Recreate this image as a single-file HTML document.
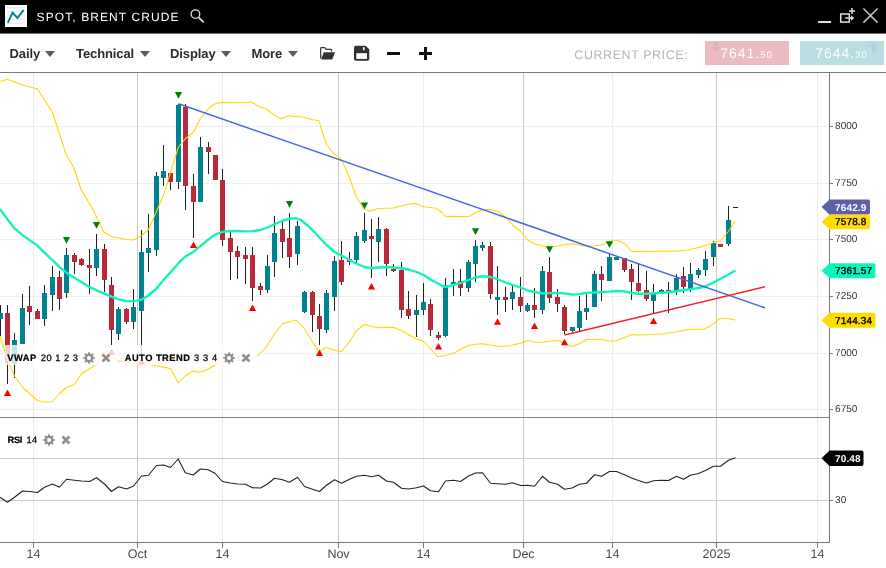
<!DOCTYPE html>
<html lang="en"><head><meta charset="utf-8"><title>SPOT, BRENT CRUDE</title>
<style>
html,body{margin:0;padding:0;background:#fff;}
body{width:886px;height:568px;overflow:hidden;position:relative;font-family:"Liberation Sans",Arial,sans-serif;text-rendering:geometricPrecision;}
.abs{position:absolute;white-space:nowrap;line-height:1;}
#hdr{left:0;top:0;width:886px;height:33px;background:#000;}
#hdr2{left:0;top:33px;width:886px;height:1px;background:#6e6e6e;}
.title{left:36.6px;top:10.7px;color:#fff;font-size:12px;letter-spacing:1.09px;}
.menu{top:47.05px;font-weight:bold;font-size:13px;color:#2b2b30;letter-spacing:-0.1px;}
.caret{top:51.2px;width:0;height:0;border-left:5.2px solid transparent;border-right:5.2px solid transparent;border-top:6px solid #5c5c5c;}
.cp{left:574.3px;top:48.8px;font-size:12.5px;color:#b4b4b4;letter-spacing:0.56px;}
.pbox{top:41px;height:24px;color:#fff;}
.pbox .big{font-size:14px;letter-spacing:1.0px;}
.pbox .sm{font-size:9.5px;letter-spacing:1.0px;}
.leg{font-size:10px;color:#222;background:rgba(255,255,255,0.78);height:19px;}
.leg b{color:#111;}
svg text{font-family:"Liberation Sans",Arial,sans-serif;text-rendering:geometricPrecision;}
</style></head><body>

<svg class="abs" style="left:0;top:0" width="886" height="568" viewBox="0 0 886 568">
<g shape-rendering="crispEdges">
<rect x="0" y="126" width="829" height="1" fill="#eeeeee"/>
<rect x="0" y="183" width="829" height="1" fill="#eeeeee"/>
<rect x="0" y="239" width="829" height="1" fill="#eeeeee"/>
<rect x="0" y="296" width="829" height="1" fill="#eeeeee"/>
<rect x="0" y="353" width="829" height="1" fill="#eeeeee"/>
<rect x="0" y="409" width="829" height="1" fill="#eeeeee"/>
<rect x="33" y="73" width="1" height="469" fill="#ebebeb"/>
<rect x="222" y="73" width="1" height="469" fill="#ebebeb"/>
<rect x="423" y="73" width="1" height="469" fill="#ebebeb"/>
<rect x="612" y="73" width="1" height="469" fill="#ebebeb"/>
<rect x="817" y="73" width="1" height="469" fill="#ebebeb"/>
<rect x="137" y="73" width="1" height="469" fill="#c9c9c9"/>
<rect x="338" y="73" width="1" height="469" fill="#c9c9c9"/>
<rect x="523" y="73" width="1" height="469" fill="#c9c9c9"/>
<rect x="716" y="73" width="1" height="469" fill="#c9c9c9"/>
<rect x="0" y="458" width="829" height="1" fill="#cbcbcb"/>
<rect x="0" y="500" width="829" height="1" fill="#cbcbcb"/>
<rect x="0" y="417" width="829" height="1" fill="#808080"/>
<rect x="0" y="72" width="886" height="1" fill="#7a7a7a"/>
<rect x="829" y="73" width="1" height="470" fill="#777"/>
<rect x="0" y="542" width="830" height="1" fill="#777"/>
<rect x="830" y="126" width="3" height="1" fill="#808080"/>
<rect x="830" y="183" width="3" height="1" fill="#808080"/>
<rect x="830" y="239" width="3" height="1" fill="#808080"/>
<rect x="830" y="296" width="3" height="1" fill="#808080"/>
<rect x="830" y="353" width="3" height="1" fill="#808080"/>
<rect x="830" y="409" width="3" height="1" fill="#808080"/>
<rect x="830" y="500" width="3" height="1" fill="#808080"/>
<rect x="33" y="543" width="1" height="5" fill="#777"/>
<rect x="137" y="543" width="1" height="5" fill="#777"/>
<rect x="222" y="543" width="1" height="5" fill="#777"/>
<rect x="338" y="543" width="1" height="5" fill="#777"/>
<rect x="423" y="543" width="1" height="5" fill="#777"/>
<rect x="523" y="543" width="1" height="5" fill="#777"/>
<rect x="612" y="543" width="1" height="5" fill="#777"/>
<rect x="716" y="543" width="1" height="5" fill="#777"/>
<rect x="817" y="543" width="1" height="5" fill="#777"/>
</g>
<g shape-rendering="crispEdges">
<rect x="0" y="305" width="1" height="31" fill="#222"/>
<rect x="-2" y="313" width="5" height="6" fill="#00838f"/>
<rect x="7" y="305" width="1" height="79" fill="#222"/>
<rect x="5" y="313" width="5" height="50" fill="#b8293a"/>
<rect x="14" y="333" width="1" height="45" fill="#222"/>
<rect x="12" y="340" width="5" height="24" fill="#00838f"/>
<rect x="22" y="294" width="1" height="50" fill="#222"/>
<rect x="20" y="308" width="5" height="36" fill="#00838f"/>
<rect x="29" y="286" width="1" height="39" fill="#222"/>
<rect x="27" y="306" width="5" height="6" fill="#b8293a"/>
<rect x="37" y="309" width="1" height="10" fill="#222"/>
<rect x="35" y="311" width="5" height="8" fill="#b8293a"/>
<rect x="44" y="285" width="1" height="41" fill="#222"/>
<rect x="42" y="293" width="5" height="26" fill="#00838f"/>
<rect x="52" y="266" width="1" height="45" fill="#222"/>
<rect x="50" y="277" width="5" height="18" fill="#00838f"/>
<rect x="59" y="271" width="1" height="39" fill="#222"/>
<rect x="57" y="277" width="5" height="22" fill="#b8293a"/>
<rect x="66" y="248" width="1" height="50" fill="#222"/>
<rect x="64" y="255" width="5" height="38" fill="#00838f"/>
<rect x="74" y="253" width="1" height="21" fill="#222"/>
<rect x="72" y="255" width="5" height="7" fill="#b8293a"/>
<rect x="81" y="258" width="1" height="8" fill="#222"/>
<rect x="79" y="259" width="5" height="6" fill="#b8293a"/>
<rect x="89" y="249" width="1" height="45" fill="#222"/>
<rect x="87" y="265" width="5" height="3" fill="#b8293a"/>
<rect x="96" y="234" width="1" height="42" fill="#222"/>
<rect x="94" y="249" width="5" height="19" fill="#00838f"/>
<rect x="104" y="244" width="1" height="48" fill="#222"/>
<rect x="102" y="249" width="5" height="31" fill="#b8293a"/>
<rect x="111" y="277" width="1" height="68" fill="#222"/>
<rect x="109" y="285" width="5" height="45" fill="#b8293a"/>
<rect x="118" y="307" width="1" height="33" fill="#222"/>
<rect x="116" y="309" width="5" height="25" fill="#00838f"/>
<rect x="126" y="308" width="1" height="16" fill="#222"/>
<rect x="124" y="309" width="5" height="13" fill="#b8293a"/>
<rect x="133" y="289" width="1" height="40" fill="#222"/>
<rect x="131" y="307" width="5" height="15" fill="#00838f"/>
<rect x="141" y="230" width="1" height="128" fill="#222"/>
<rect x="139" y="252" width="5" height="59" fill="#00838f"/>
<rect x="148" y="214" width="1" height="58" fill="#222"/>
<rect x="146" y="248" width="5" height="5" fill="#00838f"/>
<rect x="156" y="172" width="1" height="84" fill="#222"/>
<rect x="154" y="176" width="5" height="74" fill="#00838f"/>
<rect x="163" y="145" width="1" height="41" fill="#222"/>
<rect x="161" y="171" width="5" height="7" fill="#00838f"/>
<rect x="170" y="173" width="1" height="17" fill="#222"/>
<rect x="168" y="173" width="5" height="9" fill="#b8293a"/>
<rect x="178" y="104" width="1" height="85" fill="#222"/>
<rect x="176" y="105" width="5" height="77" fill="#00838f"/>
<rect x="185" y="104" width="1" height="106" fill="#222"/>
<rect x="183" y="107" width="5" height="79" fill="#b8293a"/>
<rect x="193" y="174" width="1" height="64" fill="#222"/>
<rect x="191" y="186" width="5" height="16" fill="#b8293a"/>
<rect x="200" y="137" width="1" height="65" fill="#222"/>
<rect x="198" y="147" width="5" height="55" fill="#00838f"/>
<rect x="208" y="142" width="1" height="32" fill="#222"/>
<rect x="206" y="147" width="5" height="5" fill="#b8293a"/>
<rect x="215" y="155" width="1" height="25" fill="#222"/>
<rect x="213" y="155" width="5" height="25" fill="#b8293a"/>
<rect x="222" y="169" width="1" height="77" fill="#222"/>
<rect x="220" y="180" width="5" height="60" fill="#b8293a"/>
<rect x="230" y="230" width="1" height="50" fill="#222"/>
<rect x="228" y="238" width="5" height="14" fill="#b8293a"/>
<rect x="237" y="246" width="1" height="33" fill="#222"/>
<rect x="235" y="251" width="5" height="6" fill="#b8293a"/>
<rect x="245" y="247" width="1" height="37" fill="#222"/>
<rect x="243" y="255" width="5" height="4" fill="#b8293a"/>
<rect x="252" y="247" width="1" height="54" fill="#222"/>
<rect x="250" y="255" width="5" height="33" fill="#b8293a"/>
<rect x="260" y="283" width="1" height="12" fill="#222"/>
<rect x="258" y="286" width="5" height="4" fill="#b8293a"/>
<rect x="267" y="255" width="1" height="38" fill="#222"/>
<rect x="265" y="266" width="5" height="24" fill="#00838f"/>
<rect x="274" y="216" width="1" height="61" fill="#222"/>
<rect x="272" y="233" width="5" height="29" fill="#00838f"/>
<rect x="282" y="222" width="1" height="36" fill="#222"/>
<rect x="280" y="229" width="5" height="13" fill="#b8293a"/>
<rect x="289" y="213" width="1" height="55" fill="#222"/>
<rect x="287" y="238" width="5" height="19" fill="#b8293a"/>
<rect x="297" y="221" width="1" height="44" fill="#222"/>
<rect x="295" y="226" width="5" height="28" fill="#00838f"/>
<rect x="304" y="291" width="1" height="22" fill="#222"/>
<rect x="302" y="292" width="5" height="20" fill="#00838f"/>
<rect x="312" y="291" width="1" height="41" fill="#222"/>
<rect x="310" y="292" width="5" height="23" fill="#b8293a"/>
<rect x="319" y="304" width="1" height="41" fill="#222"/>
<rect x="317" y="316" width="5" height="13" fill="#b8293a"/>
<rect x="326" y="290" width="1" height="43" fill="#222"/>
<rect x="324" y="293" width="5" height="37" fill="#00838f"/>
<rect x="334" y="256" width="1" height="55" fill="#222"/>
<rect x="332" y="261" width="5" height="36" fill="#00838f"/>
<rect x="341" y="241" width="1" height="44" fill="#222"/>
<rect x="339" y="260" width="5" height="22" fill="#b8293a"/>
<rect x="349" y="252" width="1" height="13" fill="#222"/>
<rect x="347" y="259" width="5" height="3" fill="#b8293a"/>
<rect x="356" y="232" width="1" height="31" fill="#222"/>
<rect x="354" y="236" width="5" height="24" fill="#00838f"/>
<rect x="364" y="213" width="1" height="30" fill="#222"/>
<rect x="362" y="230" width="5" height="11" fill="#00838f"/>
<rect x="371" y="219" width="1" height="59" fill="#222"/>
<rect x="369" y="236" width="5" height="3" fill="#b8293a"/>
<rect x="378" y="217" width="1" height="45" fill="#222"/>
<rect x="376" y="229" width="5" height="13" fill="#00838f"/>
<rect x="386" y="228" width="1" height="48" fill="#222"/>
<rect x="384" y="229" width="5" height="35" fill="#b8293a"/>
<rect x="393" y="264" width="1" height="8" fill="#222"/>
<rect x="391" y="269" width="5" height="2" fill="#b8293a"/>
<rect x="401" y="262" width="1" height="56" fill="#222"/>
<rect x="399" y="270" width="5" height="40" fill="#b8293a"/>
<rect x="408" y="291" width="1" height="28" fill="#222"/>
<rect x="406" y="309" width="5" height="7" fill="#b8293a"/>
<rect x="416" y="295" width="1" height="42" fill="#222"/>
<rect x="414" y="310" width="5" height="5" fill="#00838f"/>
<rect x="423" y="283" width="1" height="32" fill="#222"/>
<rect x="421" y="302" width="5" height="8" fill="#00838f"/>
<rect x="430" y="299" width="1" height="37" fill="#222"/>
<rect x="428" y="304" width="5" height="26" fill="#b8293a"/>
<rect x="438" y="332" width="1" height="8" fill="#222"/>
<rect x="436" y="335" width="5" height="3" fill="#b8293a"/>
<rect x="445" y="278" width="1" height="59" fill="#222"/>
<rect x="443" y="285" width="5" height="51" fill="#00838f"/>
<rect x="453" y="269" width="1" height="27" fill="#222"/>
<rect x="451" y="282" width="5" height="2" fill="#00838f"/>
<rect x="460" y="269" width="1" height="27" fill="#222"/>
<rect x="458" y="281" width="5" height="7" fill="#b8293a"/>
<rect x="468" y="260" width="1" height="32" fill="#222"/>
<rect x="466" y="262" width="5" height="26" fill="#00838f"/>
<rect x="475" y="240" width="1" height="42" fill="#222"/>
<rect x="473" y="246" width="5" height="18" fill="#00838f"/>
<rect x="482" y="242" width="1" height="9" fill="#222"/>
<rect x="480" y="245" width="5" height="3" fill="#00838f"/>
<rect x="490" y="242" width="1" height="57" fill="#222"/>
<rect x="488" y="246" width="5" height="48" fill="#b8293a"/>
<rect x="497" y="266" width="1" height="49" fill="#222"/>
<rect x="495" y="297" width="5" height="3" fill="#00838f"/>
<rect x="505" y="287" width="1" height="25" fill="#222"/>
<rect x="503" y="297" width="5" height="3" fill="#b8293a"/>
<rect x="512" y="286" width="1" height="24" fill="#222"/>
<rect x="510" y="292" width="5" height="7" fill="#00838f"/>
<rect x="520" y="277" width="1" height="35" fill="#222"/>
<rect x="518" y="297" width="5" height="9" fill="#b8293a"/>
<rect x="527" y="303" width="1" height="9" fill="#222"/>
<rect x="525" y="305" width="5" height="6" fill="#00838f"/>
<rect x="534" y="288" width="1" height="30" fill="#222"/>
<rect x="532" y="305" width="5" height="5" fill="#b8293a"/>
<rect x="542" y="266" width="1" height="48" fill="#222"/>
<rect x="540" y="271" width="5" height="39" fill="#00838f"/>
<rect x="549" y="257" width="1" height="46" fill="#222"/>
<rect x="547" y="272" width="5" height="26" fill="#b8293a"/>
<rect x="557" y="289" width="1" height="23" fill="#222"/>
<rect x="555" y="297" width="5" height="7" fill="#b8293a"/>
<rect x="564" y="305" width="1" height="29" fill="#222"/>
<rect x="562" y="307" width="5" height="24" fill="#b8293a"/>
<rect x="572" y="327" width="1" height="5" fill="#222"/>
<rect x="570" y="327" width="5" height="4" fill="#00838f"/>
<rect x="579" y="296" width="1" height="35" fill="#222"/>
<rect x="577" y="311" width="5" height="17" fill="#00838f"/>
<rect x="586" y="294" width="1" height="26" fill="#222"/>
<rect x="584" y="308" width="5" height="4" fill="#00838f"/>
<rect x="594" y="271" width="1" height="36" fill="#222"/>
<rect x="592" y="274" width="5" height="33" fill="#00838f"/>
<rect x="601" y="266" width="1" height="35" fill="#222"/>
<rect x="599" y="274" width="5" height="6" fill="#b8293a"/>
<rect x="609" y="254" width="1" height="27" fill="#222"/>
<rect x="607" y="257" width="5" height="24" fill="#00838f"/>
<rect x="616" y="257" width="1" height="3" fill="#222"/>
<rect x="614" y="257" width="5" height="3" fill="#00838f"/>
<rect x="624" y="258" width="1" height="14" fill="#222"/>
<rect x="622" y="258" width="5" height="12" fill="#b8293a"/>
<rect x="631" y="264" width="1" height="36" fill="#222"/>
<rect x="629" y="269" width="5" height="13" fill="#b8293a"/>
<rect x="638" y="264" width="1" height="28" fill="#222"/>
<rect x="636" y="283" width="5" height="8" fill="#b8293a"/>
<rect x="646" y="271" width="1" height="30" fill="#222"/>
<rect x="644" y="290" width="5" height="9" fill="#b8293a"/>
<rect x="653" y="284" width="1" height="29" fill="#222"/>
<rect x="651" y="294" width="5" height="7" fill="#00838f"/>
<rect x="661" y="289" width="1" height="3" fill="#222"/>
<rect x="659" y="290" width="5" height="2" fill="#00838f"/>
<rect x="668" y="282" width="1" height="31" fill="#222"/>
<rect x="666" y="290" width="5" height="2" fill="#b8293a"/>
<rect x="676" y="274" width="1" height="21" fill="#222"/>
<rect x="674" y="278" width="5" height="13" fill="#00838f"/>
<rect x="683" y="267" width="1" height="26" fill="#222"/>
<rect x="681" y="276" width="5" height="11" fill="#b8293a"/>
<rect x="690" y="263" width="1" height="29" fill="#222"/>
<rect x="688" y="274" width="5" height="15" fill="#00838f"/>
<rect x="698" y="268" width="1" height="10" fill="#222"/>
<rect x="696" y="270" width="5" height="5" fill="#00838f"/>
<rect x="705" y="251" width="1" height="25" fill="#222"/>
<rect x="703" y="259" width="5" height="11" fill="#00838f"/>
<rect x="713" y="241" width="1" height="25" fill="#222"/>
<rect x="711" y="243" width="5" height="14" fill="#00838f"/>
<rect x="720" y="244" width="1" height="3" fill="#222"/>
<rect x="718" y="244" width="5" height="3" fill="#b8293a"/>
<rect x="728" y="206" width="1" height="40" fill="#222"/>
<rect x="726" y="220" width="5" height="24" fill="#00838f"/>
<rect x="733" y="207" width="5" height="1" fill="#222"/>
</g>
<polyline points="0,81.25 7.5,79.5 22.5,85 37.5,89 52.5,112.5 66.25,155 73.75,167.5 81.25,190 93.75,211 103.75,232 111.5,236.5 118.5,237.75 126.5,239.5 133.5,240 141.5,235.75 148.5,229.5 156.5,211.5 163.5,195 170.5,172.5 178.25,147.5 185.25,138.75 193.25,132.5 200.25,118.75 208.25,108.75 215.25,103.75 221,102.5 243.5,102.75 251.5,102 258.5,106.25 266.5,109.25 273.5,114.5 281.5,118.75 288.5,115.75 303.5,117.25 311.5,119.5 319,120.75 326,143.75 333.5,153.75 341,158.75 349,176.25 356,196.25 363.5,208.75 370.5,211.25 378,208.5 393,208 408.5,204.25 415.5,203.25 423.5,206.75 436,208.25 442,212.5 445.5,216.75 453.5,216.25 468.5,216.75 475.5,212.5 482.5,209.5 490.5,209.5 497.5,211.25 505.5,217 512.5,225 520.5,231.25 527.5,240 534.5,243.75 542.5,245.75 549.5,246.75 557.5,246.25 564.5,244.5 572,243.75 579.5,245 586.5,246.25 594.5,245.75 601.5,245 609.5,241.25 616.5,240 624.5,243.75 631.5,251.25 638.5,251.75 653.5,251.25 663,251 676.5,251.25 690.5,249.5 698.5,247.5 705.5,245.5 713.5,242.5 720.5,240.75 728.5,231.25 735.5,221" fill="none" stroke="#ffd600" stroke-width="1.05" stroke-linejoin="round"/>
<polyline points="0,336 7.5,359.75 14.5,376 22.5,387.25 37.5,400.5 45,402.25 52,401.75 59.5,393.5 66.5,387.25 74.5,384.75 81.5,373.5 89.5,369 96.8,363.9 101.3,355.7 104,352.4 106.7,354.4 111.5,357.25 118.5,361 133.5,363 141.5,362.25 156.5,366 170.5,368.5 178.25,383 185.25,376 193.25,371 200.25,372.25 208.25,369 221,361.5 251,360 258.5,355 266.5,346.75 274.5,333.75 282.5,323.75 289.5,321.5 296.5,320.25 303.5,327.5 311.5,340 318.5,351.75 326,347.5 333.5,350 341,351.75 349,342.5 356,331.25 364,324.25 371,326.25 378.5,327.75 393.5,327.25 401,330.5 408.5,334.5 416,338.75 423.5,341.25 430.5,348.75 437.5,356.75 442,356 453.5,353.25 460.5,349.5 468.5,345.5 475.5,344.25 482.5,343.75 490.5,345 497.5,346.25 505.5,346.25 512.5,345 520.5,343.25 527.5,340.5 534.5,342 542.5,342.5 549.5,341.25 557.5,340.5 564.5,343 572,346.75 579.5,343.75 586.5,339.5 594.5,339.25 601.5,339.25 609.5,341.25 616.5,340.75 624.5,337.5 631.5,334.5 638.5,335 653.5,334.5 664.7,333.5 677,331.8 689.3,329.3 704,329.3 712.8,324.4 719,319 725,318.2 735.5,320" fill="none" stroke="#ffd600" stroke-width="1.05" stroke-linejoin="round"/>
<polyline points="0,209.2 7.5,219.2 14.5,228.4 22.6,235.1 29.4,240.1 36.8,245.1 44.5,252.7 52.5,260.2 59.5,266.9 66.5,272.7 74.4,277.7 81.4,281.9 89.5,286.9 96.5,290.3 104.5,293.6 111.5,296.6 118.4,299.4 125.9,301 133.4,301.3 141.3,299.6 148.5,295.5 156.5,288.5 163.5,280 170.5,272.2 178.6,263.2 185.3,256.5 193.3,251.9 200.3,246.1 207.8,240 215.4,234.3 222.4,231.9 230.4,231 237.4,231 245.5,231.4 252.5,231.2 260.5,230 267.5,227.5 274.5,224.25 282.5,220.75 289.5,218.75 296,218.25 301,220 308.5,226.25 319.5,237.5 326.5,245 334.5,252 341.5,255.5 349.5,260 356.5,263.75 364.5,267 371.5,268.25 378.5,267.5 386.5,267 393.5,267.5 401.5,268.25 408.5,269.5 416.5,272 423.5,275 430.5,279.5 438.5,283.75 442,286 445.5,287 453.5,285 460.5,283 468.5,280 475.5,277.5 482.5,276.25 490.5,277 497.5,279.25 505.5,282.5 512.5,285 520.5,287.5 527.5,290.5 534.5,292 542.5,293.4 557.5,292.9 564.5,293.4 572.25,294.6 579.4,294.1 586.25,292.9 594.4,292.5 609.4,291.6 616.25,291 623.75,291.25 631.5,293 638.5,293.75 646.5,293.75 653.5,293.25 663,292.75 676.5,291.25 683.5,290 690.5,289.25 698.5,288 705.5,286.25 713.5,282.5 720.5,278.75 728.5,274.5 735.5,270.5" fill="none" stroke="#0cf5bc" stroke-width="2.35" stroke-linejoin="round"/>
<line x1="178.5" y1="103.75" x2="765" y2="307.8" stroke="#4468e0" stroke-width="1.45"/>
<line x1="564.5" y1="335" x2="765" y2="286.8" stroke="#f0222a" stroke-width="1.45"/>
<polygon points="62.9,237 70.1,237 66.5,243.8" fill="#008000"/>
<polygon points="92.9,222 100.1,222 96.5,228.8" fill="#008000"/>
<polygon points="174.9,92 182.1,92 178.5,98.8" fill="#008000"/>
<polygon points="285.9,201 293.1,201 289.5,207.8" fill="#008000"/>
<polygon points="360.9,202.5 368.1,202.5 364.5,209.3" fill="#008000"/>
<polygon points="471.9,228.25 479.1,228.25 475.5,235.05" fill="#008000"/>
<polygon points="545.9,246.25 553.1,246.25 549.5,253.05" fill="#008000"/>
<polygon points="605.9,241.25 613.1,241.25 609.5,248.05" fill="#008000"/>
<polygon points="7.5,389.5 11.1,396.1 3.9,396.1" fill="#ff0000"/>
<polygon points="111.5,348.5 115.1,355.1 107.9,355.1" fill="#ff0000"/>
<polygon points="141.5,358.2 145.1,364.8 137.9,364.8" fill="#ff0000"/>
<polygon points="193.5,241.5 197.1,248.1 189.9,248.1" fill="#ff0000"/>
<polygon points="252.5,304.5 256.1,311.1 248.9,311.1" fill="#ff0000"/>
<polygon points="319.5,349.5 323.1,356.1 315.9,356.1" fill="#ff0000"/>
<polygon points="371.5,283 375.1,289.6 367.9,289.6" fill="#ff0000"/>
<polygon points="438.5,343 442.1,349.6 434.9,349.6" fill="#ff0000"/>
<polygon points="497.5,318.25 501.1,324.85 493.9,324.85" fill="#ff0000"/>
<polygon points="534.5,322.5 538.1,329.1 530.9,329.1" fill="#ff0000"/>
<polygon points="564.5,338.75 568.1,345.35 560.9,345.35" fill="#ff0000"/>
<polygon points="653.5,317.5 657.1,324.1 649.9,324.1" fill="#ff0000"/>
<polyline points="0,497.25 7.5,502.25 14.5,497.25 22.5,491 29.5,491.5 37.5,492.5 44.5,487.25 52.5,484 59.5,487.25 66.5,479.25 74.5,480.25 81.5,481 89.5,481.5 96.5,477.75 104.5,484 111.5,491.5 118.5,486.75 126.5,489 133.5,486 141.5,476 148.5,475.25 156.5,465.5 163.5,465 170.5,467.5 178.25,459 185.25,472.75 193.25,475 200.25,469 208.25,469.75 215.25,473.5 222.25,481.5 230.5,483 237.5,484 245.5,484.25 252.5,487.75 260.5,488 267.5,484 274.5,478.25 282.5,479.75 289.5,482.25 297.5,477.25 304.5,486.5 312.5,489.25 319.5,491.5 326.5,485.25 334.5,479.75 341.5,483.25 349.5,479.25 356.5,476.25 364.5,475.25 371.5,476.75 378.5,475.25 386.5,481 393.5,482.25 401.5,488.25 408.5,489 416.5,487.75 423.5,486 430.5,490.75 438.5,491.75 445.5,481 453.5,480.25 460.5,481.5 468.5,476 475.5,473 482.5,472.75 490.5,483.25 497.5,483.75 505.5,484.25 512.5,482.75 520.5,485.5 527.5,485.25 534.5,486.25 542.5,476.25 549.5,482.25 557.5,484.25 564.5,489.25 572,488 579.5,484.25 586.5,483.25 594.5,474.75 601.5,476.25 609.5,471.5 616.5,471.5 624.5,474.75 631.5,478 638.5,480.5 646.5,483 653.5,480.75 661.5,480.25 668.5,480.5 676.5,476.25 683.5,479.25 690.5,475.25 698.5,473.5 705.5,470.5 713.5,466.25 720.5,466.25 728.5,460.25 735.5,457.75" fill="none" stroke="#222" stroke-width="1.1" stroke-linejoin="round"/>
<text x="835.1" y="129.2" font-size="10" fill="#333">8000</text>
<text x="835.1" y="186.2" font-size="10" fill="#333">7750</text>
<text x="835.1" y="242.2" font-size="10" fill="#333">7500</text>
<text x="835.1" y="299.2" font-size="10" fill="#333">7250</text>
<text x="835.1" y="356.2" font-size="10" fill="#333">7000</text>
<text x="835.1" y="412.2" font-size="10" fill="#333">6750</text>
<text x="835.1" y="503.2" font-size="10" fill="#333">30</text>
<text x="33.5" y="558.4" font-size="12.5" fill="#484848" text-anchor="middle">14</text>
<text x="137.5" y="558.4" font-size="12.5" fill="#484848" text-anchor="middle">Oct</text>
<text x="222.5" y="558.4" font-size="12.5" fill="#484848" text-anchor="middle">14</text>
<text x="338.5" y="558.4" font-size="12.5" fill="#484848" text-anchor="middle">Nov</text>
<text x="423.5" y="558.4" font-size="12.5" fill="#484848" text-anchor="middle">14</text>
<text x="523.5" y="558.4" font-size="12.5" fill="#484848" text-anchor="middle">Dec</text>
<text x="612.5" y="558.4" font-size="12.5" fill="#484848" text-anchor="middle">14</text>
<text x="716.5" y="558.4" font-size="12.5" fill="#484848" text-anchor="middle">2025</text>
<text x="817.5" y="558.4" font-size="12.5" fill="#484848" text-anchor="middle">14</text>
<path d="M821.5,206.9 L829.5,199.4 L868.0,199.4 Q870.0,199.4 870.0,201.4 L870.0,212.4 Q870.0,214.4 868.0,214.4 L829.5,214.4 Z" fill="#5f5ea9"/>
<text x="835" y="211" font-size="10" font-weight="bold" letter-spacing="0.15" fill="#fff">7642.9</text>
<path d="M821.5,222 L829.5,214.7 L868.0,214.7 Q870.0,214.7 870.0,216.7 L870.0,227.3 Q870.0,229.3 868.0,229.3 L829.5,229.3 Z" fill="#ffdd00"/>
<text x="835" y="224.9" font-size="10" letter-spacing="0.15" fill="#000" stroke="#000" stroke-width="0.35">7578.8</text>
<path d="M821.5,270.8 L829.5,263.3 L873.5,263.3 Q875.5,263.3 875.5,265.3 L875.5,276.3 Q875.5,278.3 873.5,278.3 L829.5,278.3 Z" fill="#0cf5bc"/>
<text x="835" y="274.3" font-size="10" letter-spacing="0.15" fill="#000" stroke="#000" stroke-width="0.35">7361.57</text>
<path d="M821.5,320.2 L829.5,312.7 L873.5,312.7 Q875.5,312.7 875.5,314.7 L875.5,325.7 Q875.5,327.7 873.5,327.7 L829.5,327.7 Z" fill="#ffdd00"/>
<text x="835" y="323.7" font-size="10" letter-spacing="0.15" fill="#000" stroke="#000" stroke-width="0.35">7144.34</text>
<path d="M821.5,458.2 L829.5,450.4 L861.5,450.4 Q863.5,450.4 863.5,452.4 L863.5,464.0 Q863.5,466.0 861.5,466.0 L829.5,466.0 Z" fill="#000"/>
<text x="835" y="462.1" font-size="10" font-weight="bold" letter-spacing="0.15" fill="#fff">70.48</text>
</svg>
<div class="abs" style="left:5px;top:345px;width:112.5px;height:19.6px;background:rgba(255,255,255,0.78)"></div>
<div class="abs" style="left:7.3px;top:353.58px;font-size:9.3px;font-weight:bold;color:#000;-webkit-text-stroke:0.2px #000;letter-spacing:0.5px">VWAP</div>
<div class="abs" style="left:40.8px;top:353.58px;font-size:9.3px;color:#000;-webkit-text-stroke:0.25px #000;letter-spacing:0.49px">20 1 2 3</div>
<svg width="14" height="14" viewBox="0 0 14 14" style="position:absolute;left:81.96px;top:351px"><path fill="#909090" fill-rule="evenodd" d="M11.28,5.96 L12.85,6.20 L12.85,7.80 L11.28,8.04 L10.76,9.29 L11.70,10.57 L10.57,11.70 L9.29,10.76 L8.04,11.28 L7.80,12.85 L6.20,12.85 L5.96,11.28 L4.71,10.76 L3.43,11.70 L2.30,10.57 L3.24,9.29 L2.72,8.04 L1.15,7.80 L1.15,6.20 L2.72,5.96 L3.24,4.71 L2.30,3.43 L3.43,2.30 L4.71,3.24 L5.96,2.72 L6.20,1.15 L7.80,1.15 L8.04,2.72 L9.29,3.24 L10.57,2.30 L11.70,3.43 L10.76,4.71Z M9.00,7.00 A2.0,2.0 0 1,0 5.00,7.00 A2.0,2.0 0 1,0 9.00,7.00Z"/></svg>
<svg width="12" height="12" viewBox="0 0 12 12" style="position:absolute;left:100px;top:352px"><path d="M2.500 2.500L9.500 9.500M9.500 2.500L2.500 9.500" stroke="#909090" stroke-width="2.700" fill="none"/></svg>
<div class="abs" style="left:121px;top:345px;width:136px;height:19.6px;background:rgba(255,255,255,0.78)"></div>
<div class="abs" style="left:124.7px;top:353.58px;font-size:9.3px;font-weight:bold;color:#000;-webkit-text-stroke:0.2px #000;letter-spacing:0.5px">AUTO TREND</div>
<div class="abs" style="left:194px;top:353.58px;font-size:9.3px;color:#000;-webkit-text-stroke:0.25px #000;letter-spacing:0.65px">3 3 4</div>
<svg width="14" height="14" viewBox="0 0 14 14" style="position:absolute;left:222.2px;top:351px"><path fill="#909090" fill-rule="evenodd" d="M11.28,5.96 L12.85,6.20 L12.85,7.80 L11.28,8.04 L10.76,9.29 L11.70,10.57 L10.57,11.70 L9.29,10.76 L8.04,11.28 L7.80,12.85 L6.20,12.85 L5.96,11.28 L4.71,10.76 L3.43,11.70 L2.30,10.57 L3.24,9.29 L2.72,8.04 L1.15,7.80 L1.15,6.20 L2.72,5.96 L3.24,4.71 L2.30,3.43 L3.43,2.30 L4.71,3.24 L5.96,2.72 L6.20,1.15 L7.80,1.15 L8.04,2.72 L9.29,3.24 L10.57,2.30 L11.70,3.43 L10.76,4.71Z M9.00,7.00 A2.0,2.0 0 1,0 5.00,7.00 A2.0,2.0 0 1,0 9.00,7.00Z"/></svg>
<svg width="12" height="12" viewBox="0 0 12 12" style="position:absolute;left:240.3px;top:352px"><path d="M2.500 2.500L9.500 9.500M9.500 2.500L2.500 9.500" stroke="#909090" stroke-width="2.700" fill="none"/></svg>
<div class="abs" style="left:7.5px;top:435.53px;font-size:9.3px;font-weight:bold;color:#000;-webkit-text-stroke:0.2px #000;letter-spacing:-0.3px">RSI</div>
<div class="abs" style="left:26.6px;top:435.53px;font-size:9.3px;color:#000;-webkit-text-stroke:0.25px #000;letter-spacing:0.3px">14</div>
<svg width="14" height="14" viewBox="0 0 14 14" style="position:absolute;left:41.9px;top:432.9px"><path fill="#909090" fill-rule="evenodd" d="M11.28,5.96 L12.85,6.20 L12.85,7.80 L11.28,8.04 L10.76,9.29 L11.70,10.57 L10.57,11.70 L9.29,10.76 L8.04,11.28 L7.80,12.85 L6.20,12.85 L5.96,11.28 L4.71,10.76 L3.43,11.70 L2.30,10.57 L3.24,9.29 L2.72,8.04 L1.15,7.80 L1.15,6.20 L2.72,5.96 L3.24,4.71 L2.30,3.43 L3.43,2.30 L4.71,3.24 L5.96,2.72 L6.20,1.15 L7.80,1.15 L8.04,2.72 L9.29,3.24 L10.57,2.30 L11.70,3.43 L10.76,4.71Z M9.00,7.00 A2.0,2.0 0 1,0 5.00,7.00 A2.0,2.0 0 1,0 9.00,7.00Z"/></svg>
<svg width="12" height="12" viewBox="0 0 12 12" style="position:absolute;left:60.05px;top:433.9px"><path d="M2.500 2.500L9.500 9.500M9.500 2.500L2.500 9.500" stroke="#909090" stroke-width="2.700" fill="none"/></svg>
<div id="hdr" class="abs"></div><div id="hdr2" class="abs"></div>
<svg class="abs" style="left:5px;top:5px" width="22" height="22" viewBox="0 0 22 22"><rect width="22" height="22" fill="#fff"/>
<g stroke="#e6e6e6" stroke-width="1"><path d="M2 2.800H19.500M2 6.400H19.500M2 10.300H19.500M2 14.300H19.500M2 18.400H19.500"/></g>
<polyline points="2.800,17.750 7.600,7.600 12.400,13 18.650,4.900" fill="none" stroke="#00838f" stroke-width="1.9"/></svg>
<div class="abs title">SPOT, BRENT CRUDE</div>
<svg class="abs" style="left:188px;top:6px" width="20" height="20" viewBox="0 0 20 20"><circle cx="7.450" cy="8.100" r="4.300" fill="none" stroke="#ddd" stroke-width="1.300"/><path d="M10.600 11.400L15.650 16.450" stroke="#ddd" stroke-width="1.700"/></svg>
<svg class="abs" style="left:810px;top:0" width="76" height="33" viewBox="0 0 76 33">
<rect x="8.100" y="21" width="13" height="2" fill="#ddd"/>
<rect x="30.700" y="14" width="8.600" height="8.100" fill="none" stroke="#ddd" stroke-width="1.500"/>
<path d="M35.200 18H42" stroke="#ddd" stroke-width="1.500"/><path d="M41 15.200L44.300 18L41 20.800Z" fill="#ddd"/>
<path d="M39 11H45M42 8V14" stroke="#ddd" stroke-width="1.500"/>
<path d="M53.400 8.500L67.600 22.600M67.600 8.500L53.400 22.600" stroke="#c6c6c6" stroke-width="1.500"/>
</svg>
<div class="abs menu" style="left:9.5px">Daily</div><div class="abs caret" style="left:45px"></div>
<div class="abs menu" style="left:76px">Technical</div><div class="abs caret" style="left:140px"></div>
<div class="abs menu" style="left:170px">Display</div><div class="abs caret" style="left:220.5px"></div>
<div class="abs menu" style="left:251.5px">More</div><div class="abs caret" style="left:288px"></div>
<svg class="abs" style="left:319px;top:45px" width="18" height="17" viewBox="0 0 18 17">
<path d="M1.700 13.500V3.400Q1.700 2.700 2.400 2.700H5.700L7.200 4.400H11.800Q12.500 4.400 12.500 5.100V6.400" fill="none" stroke="#333" stroke-width="1.200"/>
<path d="M4.800 7.300H16L13.200 14.400H2.100Z" fill="#333"/></svg>
<svg class="abs" style="left:353px;top:45px" width="17" height="17" viewBox="0 0 17 17">
<path d="M1 2.600Q1 0.800 2.800 0.800H12.600L16.300 4.300V14Q16.300 15.800 14.500 15.800H2.800Q1 15.800 1 14Z" fill="#333"/>
<rect x="3.300" y="8.200" width="10.700" height="5.700" fill="#fff"/>
<rect x="10" y="2.200" width="1.600" height="3" fill="#fff"/></svg>
<div class="abs" style="left:387px;top:51.500px;width:13.200px;height:3.500px;background:#111"></div>
<div class="abs" style="left:419px;top:51.500px;width:13.200px;height:3.500px;background:#111"></div>
<div class="abs" style="left:423.800px;top:46.800px;width:3.600px;height:13px;background:#111"></div>
<div class="abs cp">CURRENT PRICE:</div>
<div class="abs pbox" style="left:705px;width:84px;background:#ebbcc1"><span class="abs" style="left:15.2px;top:4.9px"><span class="big">7641.</span><span class="sm">50</span></span>
<svg class="abs" style="left:6px;top:1px" width="10" height="11" viewBox="0 0 10 11"><path d="M3 0H7V5H9.500L5 10L0.500 5H3Z" fill="#e2b0b6"/></svg></div>
<div class="abs pbox" style="left:800px;width:84px;background:#b9dde1"><span class="abs" style="left:15.2px;top:4.9px"><span class="big">7644.</span><span class="sm">30</span></span>
<svg class="abs" style="left:68.500px;top:1px" width="10" height="11" viewBox="0 0 10 11"><path d="M3 10H7V5H9.500L5 0L0.500 5H3Z" fill="#add3d8"/></svg></div>
</body></html>
